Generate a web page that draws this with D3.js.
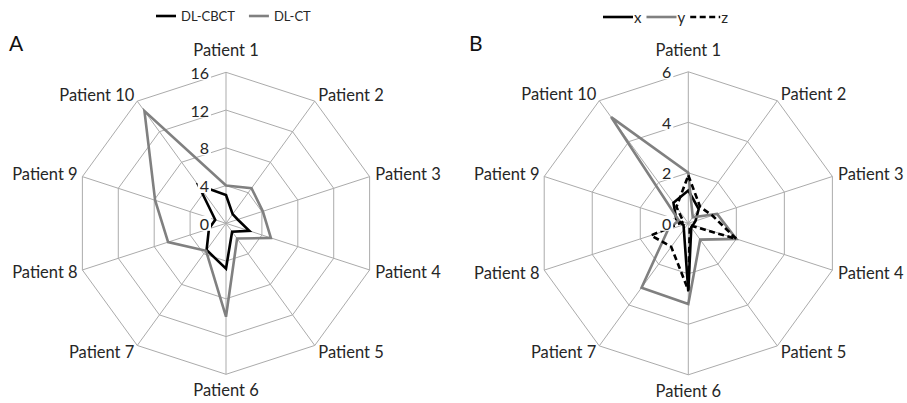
<!DOCTYPE html>
<html>
<head>
<meta charset="utf-8">
<script src="https://cdn.jsdelivr.net/npm/d3@7"></script>
<style>
  html, body { margin: 0; padding: 0; background: #fff; }
  svg { display: block; font-family: Lato, "Open Sans", sans-serif; }
</style>
</head>
<body>
<svg id="chart" width="907" height="403"></svg>
<script>
// Patients around each radar, clockwise from the top
const patients = ["Patient 1", "Patient 2", "Patient 3", "Patient 4", "Patient 5",
                  "Patient 6", "Patient 7", "Patient 8", "Patient 9", "Patient 10"];

// Panel A: DL-CBCT vs DL-CT
const dlCbct = [3.0, 1.2, 1.3, 2.6, 1.1, 4.8, 3.5, 1.9, 1.2, 5.0];
const dlCt   = [4.0, 4.6, 4.1, 5.0, 2.0, 9.9, 3.6, 6.45, 7.9, 14.7];
const ticksA = [0, 4, 8, 12, 16];

// Panel B: per-direction values
const xVals = [1.3, 0.7, 0.3, 0.2, 0.2, 2.7, 0.3, 0.2, 0.5, 1.0];
const yVals = [2.0, 0.3, 1.2, 2.0, 0.8, 3.2, 3.15, 0.85, 0.4, 5.2];
const zVals = [1.9, 0.8, 1.0, 2.0, 0.1, 2.65, 1.15, 1.55, 0.2, 0.8];
const ticksB = [0, 2, 4, 6];

const svg = d3.select("#chart");
const GRID = "#ababab";
const TEXT = "#262626";
const LABEL_SIZE = 16.5;

function radar(opts) {
  const { cx, cy, R, max, ticks, series, letter, legend } = opts;
  const g = svg.append("g").attr("transform", `translate(${cx},${cy})`);
  const r = d3.scaleLinear().domain([0, max]).range([0, R]);
  const ang = d3.scaleLinear().domain([0, patients.length]).range([0, 2 * Math.PI]);
  const pt = (i, v) => [r(v) * Math.sin(ang(i)), -r(v) * Math.cos(ang(i))];

  // rings
  const ring = d3.lineRadial().angle((d, i) => ang(i)).radius(d => r(d)).curve(d3.curveLinearClosed);
  ticks.filter(t => t > 0).forEach(t => {
    g.append("path").attr("d", ring(patients.map(() => t)))
      .attr("fill", "none").attr("stroke", GRID).attr("stroke-width", 1);
  });
  // spokes
  g.selectAll("line.spoke").data(patients).join("line")
    .attr("x1", 0).attr("y1", 0)
    .attr("x2", (d, i) => pt(i, max)[0]).attr("y2", (d, i) => pt(i, max)[1])
    .attr("stroke", GRID).attr("stroke-width", 1);

  // data polygons
  const line = d3.lineRadial().angle((d, i) => ang(i)).radius(d => r(d)).curve(d3.curveLinearClosed);
  series.forEach(s => {
    g.append("path").attr("d", line(s.values))
      .attr("fill", "none").attr("stroke", s.color).attr("stroke-width", 2.6)
      .attr("stroke-dasharray", s.dash || null);
  });

  // category labels
  patients.forEach((p, i) => {
    const s = Math.sin(ang(i)), c = Math.cos(ang(i));
    const [vx, vy] = pt(i, max);
    let anchor = "middle", dx = 0, dy = 0;
    if (s > 0.1) { anchor = "start"; dx = 6 * s; dy = -8 * c; }
    else if (s < -0.1) { anchor = "end"; dx = 5 * s; dy = -8 * c; }
    else dy = c > 0 ? -22 : 16;
    g.append("text").attr("x", vx + dx).attr("y", vy + dy)
      .attr("text-anchor", anchor).attr("dominant-baseline", "central")
      .attr("font-size", LABEL_SIZE).attr("fill", TEXT).text(p);
  });

  // value axis labels over a white box
  ticks.forEach(t => {
    const lg = g.append("g");
    const txt = lg.append("text").attr("x", -17).attr("y", -r(t))
      .attr("text-anchor", "end").attr("dominant-baseline", "central")
      .attr("font-size", 16).attr("fill", TEXT).text(t);
    const bb = txt.node().getBBox();
    lg.insert("rect", "text").attr("x", bb.x - 2).attr("y", bb.y + 2)
      .attr("width", bb.width + 4).attr("height", bb.height - 4).attr("fill", "#fff");
  });

  // panel letter
  svg.append("text").attr("x", letter.x).attr("y", letter.y)
    .attr("font-size", 21).attr("fill", "#111").text(letter.text);

  // legend
  let lx = legend.x;
  series.forEach(s => {
    svg.append("line").attr("x1", lx).attr("x2", lx + legend.len)
      .attr("y1", legend.y).attr("y2", legend.y)
      .attr("stroke", s.color).attr("stroke-width", 2.6)
      .attr("stroke-dasharray", s.dash || null);
    const t = svg.append("text").attr("x", lx + legend.len + legend.gap).attr("y", legend.y)
      .attr("dominant-baseline", "central").attr("font-size", legend.size)
      .attr("fill", TEXT).text(s.name);
    lx += legend.len + legend.gap + t.node().getComputedTextLength() + legend.pad;
  });
}

radar({
  cx: 226, cy: 223.3, R: 151, max: 16, ticks: ticksA,
  series: [
    { name: "DL-CBCT", values: dlCbct, color: "#000" },
    { name: "DL-CT", values: dlCt, color: "#808080" }
  ],
  letter: { text: "A", x: 9, y: 51 },
  legend: { x: 156, y: 16, len: 20, gap: 5, pad: 14, size: 13 }
});

radar({
  cx: 688.3, cy: 223.3, R: 151.5, max: 6, ticks: ticksB,
  series: [
    { name: "x", values: xVals, color: "#000" },
    { name: "y", values: yVals, color: "#808080" },
    { name: "z", values: zVals, color: "#000", dash: "6,3.5" }
  ],
  letter: { text: "B", x: 469, y: 51 },
  legend: { x: 603, y: 17, len: 30, gap: 1, pad: 5, size: 15 }
});
</script>
</body>
</html>
